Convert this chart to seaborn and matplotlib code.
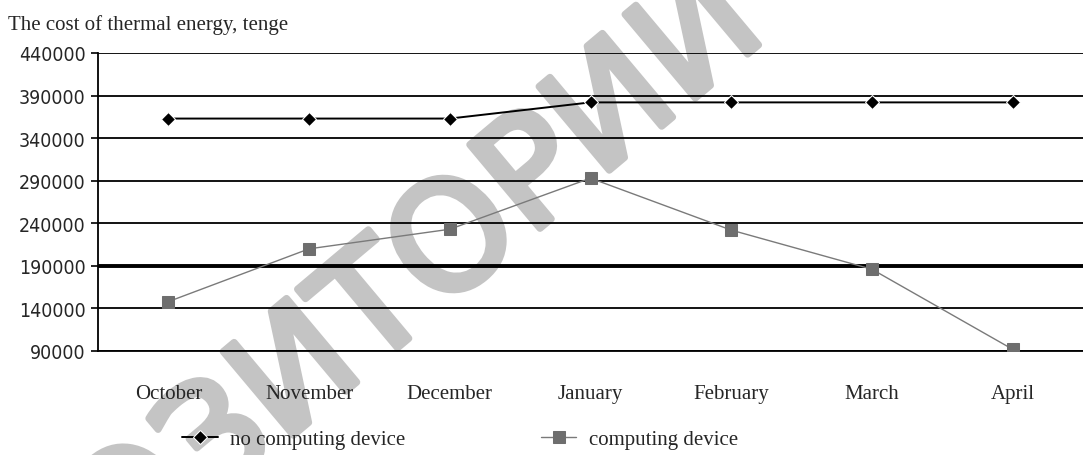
import numpy as np
import pandas as pd
import matplotlib
matplotlib.use("Agg")
import matplotlib.pyplot as plt
import matplotlib.patheffects as pe
import seaborn as sns

months = ["October", "November", "December", "January", "February", "March", "April"]
no_device = [363000, 363000, 363000, 382000, 382000, 382000, 382000]
with_device = [148000, 210000, 233000, 293000, 232000, 186000, 92000]
y_ticks = [90000, 140000, 190000, 240000, 290000, 340000, 390000, 440000]
thick_line = 190000
title = "The cost of thermal energy, tenge"
series_names = ["no computing device", "computing device"]
watermark = "РЕПОЗИТОРИЙ"

sns.set_style("white")
serif = ["Liberation Serif", "DejaVu Serif"]

df = pd.DataFrame({
    "month": months * 2,
    "cost": no_device + with_device,
    "series": [series_names[0]] * 7 + [series_names[1]] * 7,
})

fig = plt.figure(figsize=(10.83, 4.56), dpi=100)
ax = fig.add_axes([98 / 1083, 1 - 352 / 456, 1 - 98 / 1083, (352 - 54) / 456])
ax.set_facecolor("none")

# watermark, drawn first so the chart sits on top of it
wm = fig.text(0.28, 0.18, watermark, rotation=40, rotation_mode="anchor", fontsize=108,
              color="#c4c4c4", ha="center", va="center", family=["DejaVu Sans"], zorder=-1)
wm.set_path_effects([pe.withStroke(linewidth=5, foreground="#c4c4c4")])

for v in y_ticks:
    ax.axhline(v, color="black", lw=1.3, zorder=1)
ax.axhline(thick_line, color="black", lw=2.8, zorder=1)

sns.lineplot(data=df, x="month", y="cost", hue="series", style="series",
             palette=["black", "#7a7a7a"], markers=["D", "s"], dashes=False,
             markersize=7, sort=False, ax=ax, legend=False, zorder=3)
lines = ax.get_lines()[-2:]
lines[0].set_linewidth(1.4)
lines[0].set_markersize(7.5)
lines[1].set_linewidth(1.0)
lines[1].set_markersize(8.5)
lines[1].set_markerfacecolor("#6e6e6e")
lines[1].set_markeredgecolor("#6e6e6e")

ax.set_xlim(-0.5, 6.5)
ax.set_ylim(90000, 440000)
ax.set_yticks(y_ticks)
ax.set_yticklabels([str(v) for v in y_ticks], family=["DejaVu Sans"], fontsize=14,
                   fontstretch="condensed")
ax.set_xticks(range(len(months)))
ax.set_xticklabels(months, family=serif, fontsize=15)
ax.set_xticks(np.arange(-0.5, 7.0, 1.0), minor=True)
ax.tick_params(axis="x", which="major", length=0, pad=24)
ax.tick_params(axis="x", which="minor", length=6, width=1.2, color="black", direction="out")
ax.tick_params(axis="y", length=5, width=1.2, color="black", direction="out", left=True, pad=4)
ax.set_xlabel("")
ax.set_ylabel("")
for s in ["top", "right"]:
    ax.spines[s].set_visible(False)
ax.spines["left"].set_color("black")
ax.spines["left"].set_linewidth(1.3)
ax.spines["bottom"].set_color("black")
ax.spines["bottom"].set_linewidth(1.3)

fig.text(8 / 1083, 1 - 25 / 456, title, family=serif, fontsize=15, va="center", ha="left")

fig.legend(lines, series_names, loc="center", bbox_to_anchor=(0.425, 1 - 440 / 456),
           ncol=2, frameon=False, prop={"family": serif, "size": 15},
           columnspacing=6.5, handlelength=1.7, handletextpad=0.6)

fig.savefig("out.png", dpi=100)
